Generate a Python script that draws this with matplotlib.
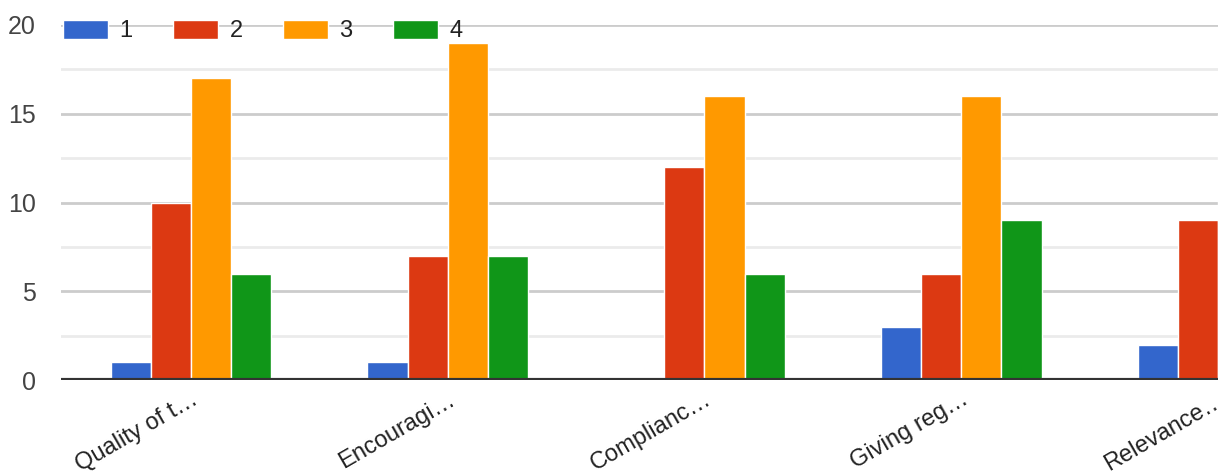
import numpy as np
import matplotlib
matplotlib.use("Agg")
import matplotlib.pyplot as plt
from matplotlib.ticker import MultipleLocator

# values (last group is cut off at the right edge)
categories = ["Quality of t…", "Encouragi…", "Complianc…", "Giving reg…", "Relevance…"]
series_names = ["1", "2", "3", "4"]
rating_1 = [1, 1, 0, 3, 2]
rating_2 = [10, 7, 12, 6, 9]
rating_3 = [17, 19, 16, 16, 15]
rating_4 = [6, 7, 6, 9, 7]
colors = ["#3366cc", "#dc3912", "#ff9900", "#109618"]

plt.rcParams["font.family"] = ["Liberation Sans", "DejaVu Sans"]

fig = plt.figure(figsize=(12.18, 4.72), dpi=100)
ax = fig.add_axes([61 / 1218, 92 / 472, 1 - 61 / 1218, 355 / 472])

x = np.arange(len(categories))
width = 0.1565
series = [rating_1, rating_2, rating_3, rating_4]
for i, (vals, col, name) in enumerate(zip(series, colors, series_names)):
    ax.bar(x + (i - 1.5) * width, vals, width, color=col, edgecolor="white",
           linewidth=1, label=name, zorder=3)

ax.set_xlim(-0.506, 3.944)
ax.set_ylim(0, 20)
ax.yaxis.set_major_locator(MultipleLocator(5))
ax.yaxis.set_minor_locator(MultipleLocator(2.5))
ax.grid(axis="y", which="major", color="#cccccc", linewidth=2, zorder=0)
ax.grid(axis="y", which="minor", color="#ebebeb", linewidth=2, zorder=0)
ax.axhline(0, color="#333333", linewidth=3, zorder=4)

for s in ax.spines.values():
    s.set_visible(False)

ax.tick_params(axis="y", which="both", length=0, pad=18, labelsize=18, labelcolor="#444444")
ax.tick_params(axis="x", length=0, pad=6, labelsize=17, labelcolor="#222222")
ax.set_xticks(x)
ax.set_xticklabels(categories, rotation=30, ha="right", rotation_mode="anchor")

ax.legend(loc="center left", bbox_to_anchor=(2 / 1157, 1 - 6 / 355), ncol=4,
          frameon=False, fontsize=17, handlelength=1.9, handleheight=0.9,
          handletextpad=0.5, columnspacing=1.7, borderaxespad=0, borderpad=0,
          labelcolor="#222222")

fig.savefig("out.png", dpi=100)
